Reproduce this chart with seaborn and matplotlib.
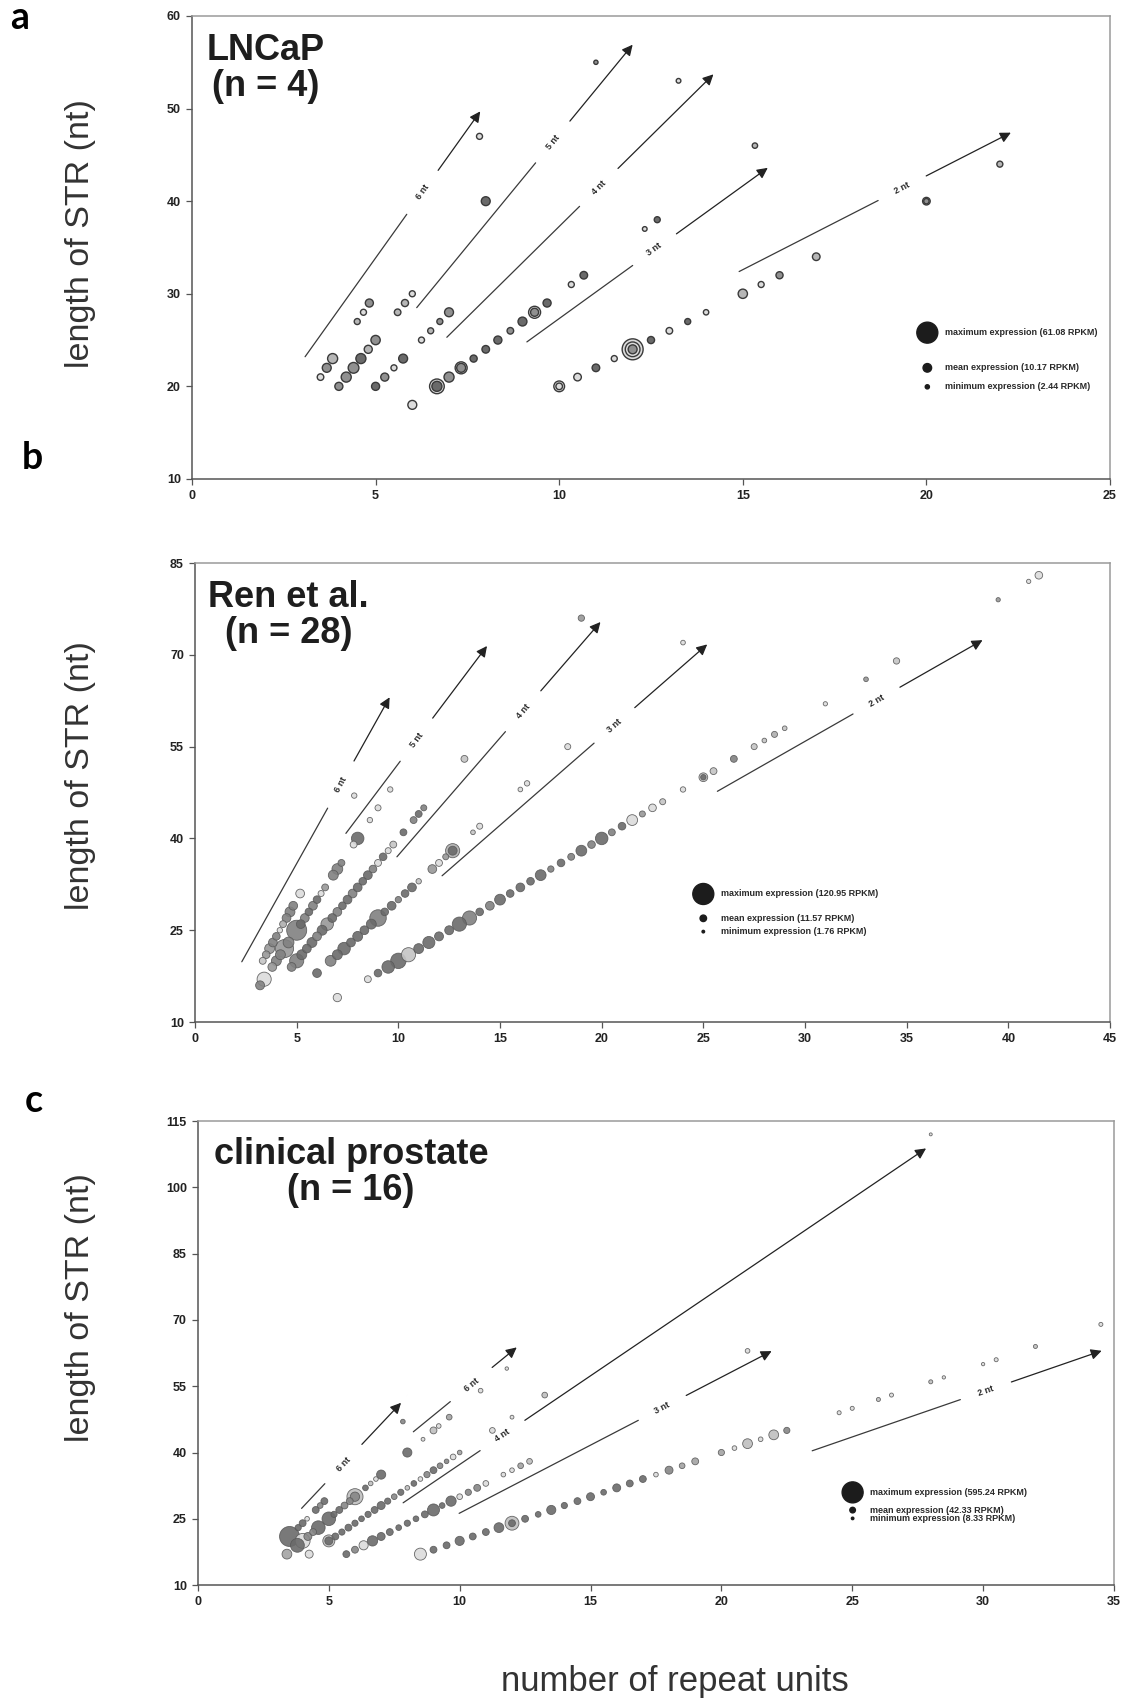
import numpy as np
import pandas as pd
import matplotlib
matplotlib.use("Agg")
import matplotlib.pyplot as plt
from matplotlib.colors import LinearSegmentedColormap
import seaborn as sns

# ---------------- panel a: LNCaP (n = 4) ----------------
# one entry per STR; rings of the same STR seen in other samples are extra entries
a_units = [3.5, 3.67, 3.83, 4.5, 4.67, 4.83, 7.83,                       # 6 nt
           4.0, 4.2, 4.4, 4.6, 4.8, 5.0, 5.6, 5.8, 6.0, 8.0, 11.0,       # 5 nt
           5.0, 5.25, 5.5, 5.75, 6.25, 6.5, 6.75, 7.0, 13.25,            # 4 nt
           6.0, 6.67, 6.67, 7.0, 7.33, 7.33, 7.67, 8.0, 8.33, 8.67, 9.0,  # 3 nt
           9.33, 9.33, 9.67, 10.33, 10.67, 12.33, 12.67, 15.33,
           10.0, 10.0, 10.5, 11.0, 11.5, 12.0, 12.0, 12.0, 12.5, 13.0,    # 2 nt
           13.5, 14.0, 15.0, 15.5, 16.0, 17.0, 20.0, 20.0, 22.0]
a_length = [21, 22, 23, 27, 28, 29, 47,
            20, 21, 22, 23, 24, 25, 28, 29, 30, 40, 55,
            20, 21, 22, 23, 25, 26, 27, 28, 53,
            18, 20, 20, 21, 22, 22, 23, 24, 25, 26, 27,
            28, 28, 29, 31, 32, 37, 38, 46,
            20, 20, 21, 22, 23, 24, 24, 24, 25, 26,
            27, 28, 30, 31, 32, 34, 40, 40, 44]
a_rpkm = [6, 11, 14, 5, 5, 9, 5,
          9, 14, 16, 14, 9, 12, 6, 7, 5, 11, 2.5,
          9, 9, 5, 11, 5, 5, 5, 11, 3,
          11, 30, 14, 14, 20, 11, 7, 8, 9, 6, 11,
          20, 9, 9, 5, 8, 3, 5, 4,
          16, 6, 8, 8, 5, 61, 30, 11, 7, 6,
          5, 4, 12, 5, 7, 8, 8, 4, 5]
a_samples = [1, 3, 2, 2, 1, 3, 1,
             3, 3, 3, 4, 2, 3, 2, 2, 1, 4, 3,
             4, 3, 1, 4, 1, 2, 3, 3, 1,
             1, 1, 4, 3, 1, 3, 4, 4, 4, 3, 4,
             1, 3, 4, 1, 4, 1, 4, 2,
             1, 1, 1, 4, 1, 1, 1, 3, 4, 1,
             4, 1, 2, 1, 3, 2, 1, 3, 2]
a_legend = [61.08, 10.17, 2.44]

# ---------------- panel b: Ren et al. (n = 28) ----------------
b_units = [7.0, 8.5, 9.0, 9.5, 10.0, 10.5, 11.0, 11.5, 12.0, 12.5, 13.0,          # 2 nt
           13.5, 14.0, 14.5, 15.0, 15.5, 16.0, 16.5, 17.0, 17.5, 18.0, 18.5,
           19.0, 19.5, 20.0, 20.5, 21.0, 21.5, 22.0, 22.5, 23.0, 24.0, 25.0,
           25.0, 25.5, 26.5, 27.5, 28.0, 28.5, 29.0, 31.0, 33.0, 34.5, 39.5,
           41.0, 41.5,
           6.0, 6.67, 7.0, 7.33, 7.67, 8.0, 8.33, 8.67, 9.0, 9.33, 9.67,      # 3 nt
           10.0, 10.33, 10.67, 11.0, 11.67, 12.0, 12.33, 12.67, 12.67, 13.67,
           14.0, 16.0, 16.33, 18.33, 24.0,
           4.75, 5.0, 5.25, 5.5, 5.75, 6.0, 6.25, 6.5, 6.75, 7.0, 7.25,       # 4 nt
           7.5, 7.75, 8.0, 8.25, 8.5, 8.75, 9.0, 9.25, 9.5, 9.75, 10.25,
           10.75, 11.0, 11.25, 13.25, 19.0,
           3.2, 3.4, 3.8, 4.0, 4.2, 4.4, 4.6, 5.0, 5.2, 5.4, 5.6, 5.8,        # 5 nt
           6.0, 6.2, 6.4, 6.8, 7.0, 7.2, 7.8, 8.0, 8.6, 9.0, 9.6,
           3.33, 3.5, 3.67, 3.83, 4.0, 4.17, 4.33, 4.5, 4.67, 4.83, 5.17,     # 6 nt
           7.83]
b_length = [14, 17, 18, 19, 20, 21, 22, 23, 24, 25, 26,
            27, 28, 29, 30, 31, 32, 33, 34, 35, 36, 37,
            38, 39, 40, 41, 42, 43, 44, 45, 46, 48, 50,
            50, 51, 53, 55, 56, 57, 58, 62, 66, 69, 79,
            82, 83,
            18, 20, 21, 22, 23, 24, 25, 26, 27, 28, 29,
            30, 31, 32, 33, 35, 36, 37, 38, 38, 41,
            42, 48, 49, 55, 72,
            19, 20, 21, 22, 23, 24, 25, 26, 27, 28, 29,
            30, 31, 32, 33, 34, 35, 36, 37, 38, 39, 41,
            43, 44, 45, 53, 76,
            16, 17, 19, 20, 21, 22, 23, 25, 26, 27, 28, 29,
            30, 31, 32, 34, 35, 36, 39, 40, 43, 45, 48,
            20, 21, 22, 23, 24, 25, 26, 27, 28, 29, 31,
            47]
b_rpkm = [19, 13, 16, 43, 65, 55, 27, 40, 22, 22, 55,
          55, 16, 21, 32, 16, 21, 16, 32, 11, 16, 13,
          32, 16, 43, 13, 16, 32, 10, 16, 10, 8, 21,
          8, 13, 13, 10, 6, 10, 6, 5, 6, 11, 5,
          5, 16,
          21, 32, 27, 43, 21, 27, 21, 27, 75, 16, 21,
          11, 16, 21, 8, 21, 13, 10, 55, 22, 6,
          10, 6, 8, 10, 6,
          21, 55, 27, 21, 27, 21, 27, 43, 21, 21, 16,
          21, 21, 21, 16, 21, 16, 13, 16, 10, 13, 13,
          13, 13, 10, 13, 11,
          22, 55, 21, 27, 27, 90, 32, 110, 21, 21, 16, 21,
          16, 10, 13, 27, 32, 13, 13, 43, 8, 10, 8,
          13, 16, 27, 21, 16, 8, 13, 21, 27, 21, 21,
          8]
b_samples = [1, 1, 6, 6, 6, 2, 6, 6, 6, 6, 6,
             5, 6, 5, 6, 6, 6, 6, 6, 5, 6, 5,
             6, 5, 6, 5, 6, 1, 4, 1, 2, 1, 2,
             6, 2, 5, 2, 2, 3, 2, 1, 4, 2, 4,
             1, 1,
             6, 5, 6, 6, 6, 6, 6, 6, 5, 6, 6,
             5, 6, 6, 2, 4, 1, 4, 3, 6, 2,
             1, 1, 1, 1, 1,
             5, 5, 6, 6, 6, 5, 6, 4, 6, 5, 6,
             6, 5, 6, 6, 6, 5, 1, 6, 1, 2, 6,
             5, 6, 5, 2, 4,
             5, 1, 4, 5, 5, 4, 5, 5, 6, 5, 6, 5,
             6, 1, 4, 5, 5, 5, 1, 6, 1, 1, 1,
             2, 4, 4, 5, 5, 1, 3, 5, 5, 5, 1,
             1]
b_legend = [120.95, 11.57, 1.76]

# ---------------- panel c: clinical prostate (n = 16) ----------------
c_units = [3.5, 3.83, 4.0, 4.17, 4.5, 4.67, 4.83, 7.83,                       # 6 nt
           3.4, 3.8, 4.0, 4.2, 4.4, 4.6, 5.0, 5.2, 5.4, 5.6, 5.8, 6.0,        # 5 nt
           6.0, 6.4, 6.6, 6.8, 7.0, 8.0, 8.6, 9.0, 9.2, 9.6, 10.8, 11.8,
           4.25, 5.0, 5.0, 5.25, 5.5, 5.75, 6.0, 6.25, 6.5, 6.75, 7.0,        # 4 nt
           7.25, 7.5, 7.75, 8.0, 8.25, 8.5, 8.75, 9.0, 9.25, 9.5, 9.75,
           10.0, 11.25, 12.0, 13.25, 28.0,
           5.67, 6.0, 6.33, 6.67, 7.0, 7.33, 7.67, 8.0, 8.33, 8.67, 9.0,      # 3 nt
           9.33, 9.67, 10.0, 10.33, 10.67, 11.0, 11.67, 12.0, 12.33, 12.67,
           21.0,
           8.5, 9.0, 9.5, 10.0, 10.5, 11.0, 11.5, 12.0, 12.0, 12.5, 13.0,     # 2 nt
           13.5, 14.0, 14.5, 15.0, 15.5, 16.0, 16.5, 17.0, 17.5, 18.0, 18.5,
           19.0, 20.0, 20.5, 21.0, 21.5, 22.0, 22.5, 24.5, 25.0, 26.0, 26.5,
           28.0, 28.5, 30.0, 30.5, 32.0, 34.5]
c_length = [21, 23, 24, 25, 27, 28, 29, 47,
            17, 19, 20, 21, 22, 23, 25, 26, 27, 28, 29, 30,
            30, 32, 33, 34, 35, 40, 43, 45, 46, 48, 54, 59,
            17, 20, 20, 21, 22, 23, 24, 25, 26, 27, 28,
            29, 30, 31, 32, 33, 34, 35, 36, 37, 38, 39,
            40, 45, 48, 53, 112,
            17, 18, 19, 20, 21, 22, 23, 24, 25, 26, 27,
            28, 29, 30, 31, 32, 33, 35, 36, 37, 38,
            63,
            17, 18, 19, 20, 21, 22, 23, 24, 24, 25, 26,
            27, 28, 29, 30, 31, 32, 33, 34, 35, 36, 37,
            38, 40, 41, 42, 43, 44, 45, 49, 50, 52, 53,
            56, 57, 60, 61, 64, 69]
c_rpkm = [540, 52, 64, 29, 64, 44, 64, 29,
          130, 260, 300, 86, 64, 250, 250, 52, 64, 64, 64, 350,
          117, 44, 29, 29, 113, 113, 20, 64, 29, 44, 29, 16,
          86, 195, 86, 64, 52, 64, 52, 44, 52, 64, 86,
          52, 44, 52, 29, 44, 29, 52, 64, 44, 29, 44,
          29, 44, 20, 44, 12,
          64, 64, 113, 143, 86, 64, 44, 52, 44, 64, 195,
          44, 143, 44, 52, 64, 44, 29, 29, 44, 44,
          29,
          195, 64, 64, 113, 64, 64, 130, 260, 64, 64, 44,
          113, 52, 64, 86, 44, 86, 64, 64, 29, 86, 44,
          64, 52, 29, 130, 29, 130, 52, 22, 22, 22, 22,
          22, 15, 15, 22, 22, 22]
c_samples = [5, 5, 5, 1, 5, 4, 5, 4,
             3, 5, 1, 4, 4, 5, 5, 5, 5, 4, 4, 2,
             4, 5, 2, 1, 5, 5, 1, 2, 1, 3, 1, 1,
             1, 2, 5, 5, 5, 5, 5, 5, 5, 5, 5,
             5, 4, 5, 2, 5, 1, 4, 5, 4, 4, 1,
             3, 1, 1, 2, 1,
             5, 4, 1, 5, 5, 5, 5, 5, 5, 5, 5,
             5, 5, 1, 4, 4, 1, 1, 1, 3, 2,
             1,
             1, 5, 5, 5, 5, 5, 5, 2, 5, 5, 5,
             5, 5, 5, 5, 5, 5, 5, 5, 1, 4, 3,
             3, 3, 1, 2, 1, 2, 4, 1, 1, 2, 1,
             2, 1, 1, 1, 2, 1]
c_legend = [595.24, 42.33, 8.33]

# arrows: (label, start, tip, position of the label along the arrow)
a_arrows = [("6 nt", (3.08, 23.2), (7.85, 49.7), 0.67),
            ("5 nt", (6.12, 28.5), (12.0, 56.9), 0.63),
            ("4 nt", (6.94, 25.3), (14.2, 53.7), 0.57),
            ("3 nt", (9.12, 24.8), (15.68, 43.6), 0.53),
            ("2 nt", (14.9, 32.4), (22.3, 47.4), 0.60)]
b_arrows = [("6 nt", (2.30, 19.85), (9.57, 63.06), 0.67),
            ("5 nt", (7.42, 40.83), (14.36, 71.44), 0.50),
            ("4 nt", (9.93, 37.0), (19.94, 75.36), 0.62),
            ("3 nt", (12.15, 33.9), (25.19, 71.7), 0.65),
            ("2 nt", (25.69, 47.7), (38.73, 72.4), 0.60)]
c_arrows = [("6 nt", (3.96, 27.36), (7.76, 51.25), 0.42),
            ("6 nt", (8.23, 44.69), (12.18, 63.79), 0.56),
            ("4 nt", (7.84, 28.62), (27.82, 108.82), 0.19),
            ("3 nt", (9.98, 26.23), (21.92, 62.95), 0.65),
            ("2 nt", (23.47, 40.39), (34.53, 63.02), 0.60)]

MAX_DOT = 228.0  # marker area (pt^2) of the "maximum expression" dot
FONT = "Liberation Sans"
GREYS = LinearSegmentedColormap.from_list("str_grey", ["#dcdcdc", "#6a6a6a"])

sns.set_style("ticks")
plt.rcParams["font.family"] = [FONT, "DejaVu Sans"]

fig = plt.figure(figsize=(11.26, 17.02), dpi=100)
fig.patch.set_facecolor("white")


def draw_arrow(ax, label, start, tip, t, gap=27):
    p0 = ax.transData.transform(start)
    p1 = ax.transData.transform(tip)
    d = p1 - p0
    u = d / np.hypot(*d)
    mid = p0 + d * t
    inv = ax.transData.inverted()
    g0 = inv.transform(mid - u * gap)
    g1 = inv.transform(mid + u * gap)
    m = inv.transform(mid)
    ax.plot([start[0], g0[0]], [start[1], g0[1]], color="#3a3a3a", lw=0.9)
    ax.annotate("", xy=tip, xytext=g1,
                arrowprops=dict(arrowstyle="-|>", color="#222222", lw=0.9,
                                mutation_scale=16, shrinkA=0, shrinkB=0))
    ang = np.degrees(np.arctan2(d[1], d[0]))
    ax.text(m[0], m[1], label, rotation=ang, rotation_mode="anchor",
            ha="center", va="center", fontsize=6.5, fontweight="bold", color="#2a2a2a")


def draw_panel(rect, units, length, rpkm, samples, legend_vals, legend_pos,
               arrows, xmax, ymax, ystep, title, title_pos, edge, lw, alpha):
    ax = fig.add_axes(rect)
    df = pd.DataFrame({"units": units, "length": length,
                       "rpkm": rpkm, "samples": samples})
    df = df.sort_values("rpkm", ascending=False)
    k = MAX_DOT / legend_vals[0]
    lo, hi = df["rpkm"].min(), df["rpkm"].max()
    ax.set_xlim(0, xmax)
    ax.set_ylim(10, ymax)
    sns.scatterplot(data=df, x="units", y="length", size="rpkm",
                    sizes=(k * lo, k * hi), size_norm=(lo, hi),
                    hue="samples", palette=GREYS, hue_norm=(1, df["samples"].max()),
                    edgecolor=edge, linewidth=lw, alpha=alpha, legend=False, ax=ax)
    ax.set_xlim(0, xmax)
    ax.set_ylim(10, ymax)
    ax.set_xticks(np.arange(0, xmax + 1, 5))
    ax.set_yticks(np.arange(10, ymax + 1, ystep))
    ax.set_xlabel("")
    ax.set_ylabel("")
    for side, col in (("left", "#555555"), ("bottom", "#555555"),
                      ("top", "#9a9a9a"), ("right", "#9a9a9a")):
        ax.spines[side].set_visible(True)
        ax.spines[side].set_color(col)
        ax.spines[side].set_linewidth(1.1)
    ax.tick_params(direction="out", length=4, width=0.9, color="#555555",
                   labelsize=9, labelcolor="#222222", pad=4)
    for lab in ax.get_xticklabels() + ax.get_yticklabels():
        lab.set_fontweight("bold")

    # size key
    lx, ly = legend_pos
    names = ["maximum", "mean", "minimum"]
    ax.scatter([lx] * 3, ly, s=[k * v for v in legend_vals], color="#1c1c1c",
               transform=ax.transAxes, zorder=5)
    for name, v, y in zip(names, legend_vals, ly):
        ax.text(lx + 0.019, y, f"{name} expression ({v:.2f} RPKM)",
                transform=ax.transAxes, fontsize=6.5, fontweight="bold",
                color="#2a2a2a", va="center", ha="left")

    for label, start, tip, t in arrows:
        draw_arrow(ax, label, start, tip, t)

    ax.text(title_pos[0], title_pos[1], title, transform=ax.transAxes,
            ha="center", va="top", multialignment="center", fontsize=26,
            fontweight="bold", color="#1e1e1e", linespacing=1.05)
    return ax


ax_a = draw_panel([0.1705, 0.7186, 0.8153, 0.2720], a_units, a_length, a_rpkm,
                  a_samples, a_legend, (0.801, [0.316, 0.240, 0.199]), a_arrows,
                  25, 60, 10, "LNCaP\n(n = 4)", (0.080, 0.963),
                  "#3a3a3a", 1.0, 1.0)
ax_b = draw_panel([0.1732, 0.3995, 0.8126, 0.2697], b_units, b_length, b_rpkm,
                  b_samples, b_legend, (0.5555, [0.279, 0.226, 0.197]), b_arrows,
                  45, 85, 15, "Ren et al.\n(n = 28)", (0.102, 0.963),
                  (0.35, 0.35, 0.35, 0.4), 0.6, 0.9)
ax_c = draw_panel([0.1758, 0.0687, 0.8135, 0.2726], c_units, c_length, c_rpkm,
                  c_samples, c_legend, (0.7147, [0.1998, 0.1616, 0.1437]), c_arrows,
                  35, 115, 15, "clinical prostate\n(n = 16)", (0.167, 0.966),
                  (0.35, 0.35, 0.35, 0.4), 0.6, 0.9)

# y labels, one per panel, and the shared x label
for ax, x_frac, y_frac in ((ax_a, -0.1046, 0.529), (ax_b, -0.108, 0.538),
                           (ax_c, -0.111, 0.599)):
    ax.set_ylabel("length of STR (nt)", fontsize=24.5, color="#333333")
    ax.yaxis.set_label_coords(x_frac, y_frac)

fig.text(675 / 1126, 1 - 1681 / 1702, "number of repeat units", fontsize=25,
         color="#333333", ha="center", va="center")

# panel letters
for letter, (px, py) in (("a", (20, 18)), ("b", (32, 458)), ("c", (34, 1101))):
    fig.text(px / 1126, 1 - py / 1702, letter, fontsize=27, fontweight="bold",
             family=["Lato", "DejaVu Sans"], ha="center", va="center", color="black")

fig.savefig("out.png", dpi=100, facecolor="white")
